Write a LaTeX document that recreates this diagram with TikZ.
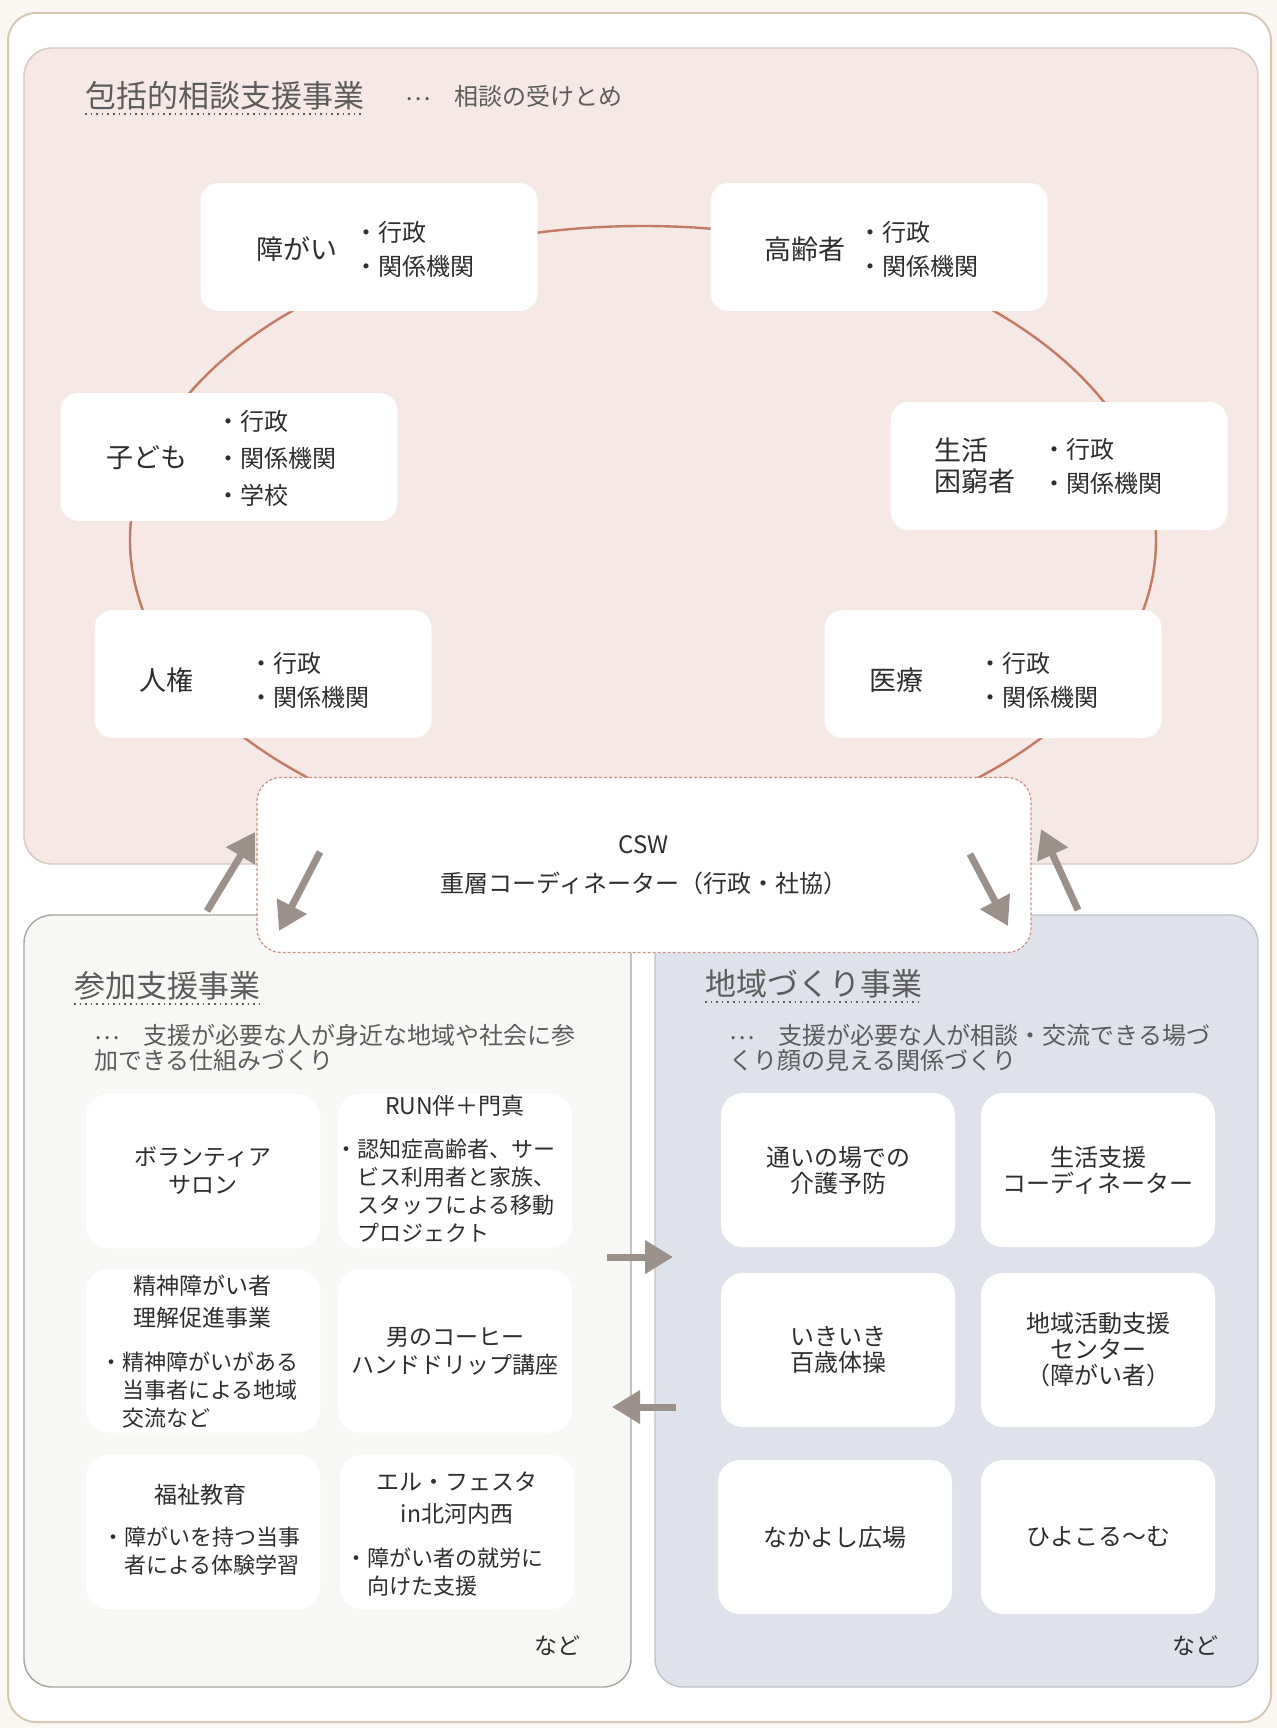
\documentclass[tikz,border=0pt]{standalone}
\usepackage{fontspec}
\setmainfont{Noto Sans CJK JP}
\usepackage{xcolor}
\usetikzlibrary{positioning, shapes.geometric, arrows.meta}
\definecolor{pagebg}{HTML}{FAF7F2}
\definecolor{framec}{HTML}{D6C8B4}
\definecolor{pinkbg}{HTML}{F5E8E5}
\definecolor{pinkln}{HTML}{D9C8C0}
\definecolor{greenbg}{HTML}{F7F8F5}
\definecolor{greenln}{HTML}{A9A39E}
\definecolor{bluebg}{HTML}{DFE2EA}
\definecolor{blueln}{HTML}{BFC2CA}
\definecolor{ringc}{HTML}{C27A62}
\definecolor{cswln}{HTML}{C99282}
\definecolor{arrowc}{HTML}{9C908A}
\definecolor{txt}{HTML}{2E2E2E}
\definecolor{subtxt}{HTML}{5C5C5C}

\begin{document}
\begin{tikzpicture}[x=0.5pt, y=-0.5pt,
    panel/.style={rounded corners=14pt, line width=0.7pt},
    oval/.style={ellipse, draw=ringc, line width=1.2pt, minimum width=513pt, minimum height=314pt, inner sep=0pt},
    tbox/.style={fill=white, rounded corners=9pt, minimum width=168.5pt, minimum height=64pt},
    bbox/.style={fill=white, rounded corners=11pt, minimum width=117pt, minimum height=77pt, align=center, text=txt, font=\fontsize{11.5}{14}\selectfont},
    rbox/.style={bbox, font=\fontsize{12}{13}\selectfont},
    cat/.style={inner sep=0pt, text=txt, align=left, font=\fontsize{13.5}{15.5}\selectfont},
    lst/.style={inner sep=0pt, text=txt, align=left, font=\fontsize{12}{17}\selectfont},
    hd/.style={inner sep=0pt, text=txt, align=center, font=\fontsize{11.5}{16}\selectfont},
    itm/.style={inner sep=0pt, text=txt, align=left, anchor=west, font=\fontsize{11}{14}\selectfont},
    ttl/.style={inner sep=0pt, anchor=west, text=subtxt, font=\fontsize{15.5}{18}\selectfont},
    dsc/.style={inner sep=0pt, anchor=west, text=subtxt, align=left, font=\fontsize{12}{12.5}\selectfont},
    uline/.style={draw=subtxt, dotted, line width=0.8pt},
    csw/.style={fill=white, draw=cswln, dash pattern=on 1.5pt off 1pt, line width=0.6pt, rounded corners=12pt, minimum width=387pt, minimum height=87.5pt, align=center, text=txt, font=\fontsize{12}{19.5}\selectfont},
    arr/.style={draw=arrowc, line width=3.5pt, -{Triangle[length=14pt, width=16pt]}}
  ]
  % page and panels
  \fill[pagebg] (0,0) rectangle (1277,1728);
  \useasboundingbox (0,0) rectangle (1277,1728);
  \draw[panel, draw=framec, fill=white, line width=1pt] (8,13) rectangle (1271,1722);
  \draw[panel, draw=pinkln, fill=pinkbg] (24,48) rectangle (1258,864);
  \draw[panel, draw=greenln, fill=greenbg] (24,915) rectangle (631,1687);
  \draw[panel, draw=blueln, fill=bluebg] (655,915) rectangle (1258,1687);

  % top panel
  \node[ttl] (t1) at (85,96) {包括的相談支援事業};
  \draw[uline] ([yshift=-1.5pt]t1.south west) -- ([yshift=-1.5pt]t1.south east);
  \node[dsc, right=20pt of t1] (s1) {\raisebox{2.5pt}{⋯}　相談の受けとめ};
  \node[oval] (ring) at (643,540) {};
  \node[tbox] (b1) at (369,247) {};
  \node[tbox] (b2) at (879,247) {};
  \node[tbox] (b3) at (229,457) {};
  \node[tbox] (b4) at (1059,466) {};
  \node[tbox] (b5) at (263,674) {};
  \node[tbox] (b6) at (993,674) {};
  \node[cat] (c1) at (297,249) {障がい};
  \node[lst, right=8pt of c1] (d1) {・行政\\・関係機関};
  \node[cat] (c2) at (805,249) {高齢者};
  \node[lst, right=6pt of c2] (d2) {・行政\\・関係機関};
  \node[cat] (c3) at (147,458) {子ども};
  \node[lst, right=14pt of c3, font=\fontsize{12}{18.5}\selectfont] (d3) {・行政\\・関係機関\\・学校};
  \node[cat] (c4) at (975,466) {生活\\困窮者};
  \node[lst, right=13pt of c4] (d4) {・行政\\・関係機関};
  \node[cat] (c5) at (166,680) {人権};
  \node[lst, right=28pt of c5] (d5) {・行政\\・関係機関};
  \node[cat] (c6) at (896,680) {医療};
  \node[lst, right=27.5pt of c6] (d6) {・行政\\・関係機関};
  \node[csw] (csw) at (644,865) {CSW\\重層コーディネーター（行政・社協）};

  % bottom left panel
  \node[ttl] (t2) at (74,986) {参加支援事業};
  \draw[uline] ([yshift=-1.5pt]t2.south west) -- ([yshift=-1.5pt]t2.south east);
  \node[dsc] (s2) at (94,1048) {\raisebox{2.5pt}{⋯}　支援が必要な人が身近な地域や社会に参\\加できる仕組みづくり};
  \node[bbox] (l1) at (203,1171) {ボランティア\\サロン};
  \node[bbox] (l2) at (455,1171) {};
  \node[hd] (h2) at (455,1106) {RUN伴＋門真};
  \node[itm] (i2) at (335,1191) {・認知症高齢者、サー\\\hspace*{1em}ビス利用者と家族、\\\hspace*{1em}スタッフによる移動\\\hspace*{1em}プロジェクト};
  \node[bbox, minimum height=81.5pt] (l3) at (203,1351) {};
  \node[hd] (h3) at (202,1302) {精神障がい者\\理解促進事業};
  \node[itm] (i3) at (100,1390) {・精神障がいがある\\\hspace*{1em}当事者による地域\\\hspace*{1em}交流など};
  \node[bbox, minimum height=81.5pt] (l4) at (455,1351) {男のコーヒー\\ハンドドリップ講座};
  \node[bbox] (l5) at (203,1532) {};
  \node[hd] (h5) at (200,1495) {福祉教育};
  \node[itm] (i5) at (102,1551) {・障がいを持つ当事\\\hspace*{1em}者による体験学習};
  \node[bbox] (l6) at (457,1532) {};
  \node[hd] (h6) at (457,1498) {エル・フェスタ\\in北河内西};
  \node[itm] (i6) at (345,1572) {・障がい者の就労に\\\hspace*{1em}向けた支援};
  \node[hd, anchor=east] (e1) at (581,1646) {など};

  % bottom right panel
  \node[ttl] (t3) at (705,984) {地域づくり事業};
  \draw[uline] ([yshift=-1.5pt]t3.south west) -- ([yshift=-1.5pt]t3.south east);
  \node[dsc] (s3) at (729,1048) {\raisebox{2.5pt}{⋯}　支援が必要な人が相談・交流できる場づ\\くり顔の見える関係づくり};
  \node[rbox] (r1) at (838,1170) {通いの場での\\介護予防};
  \node[rbox] (r2) at (1098,1170) {生活支援\\コーディネーター};
  \node[rbox] (r3) at (838,1350) {いきいき\\百歳体操};
  \node[rbox] (r4) at (1098,1350) {地域活動支援\\センター\\（障がい者）};
  \node[rbox] (r5) at (835,1537) {なかよし広場};
  \node[rbox] (r6) at (1098,1537) {ひよこる～む};
  \node[hd, anchor=east] (e2) at (1219,1646) {など};

  % arrows
  \coordinate (p1) at (207,911);  \coordinate (q1) at (255,832);
  \coordinate (p2) at (320,852);  \coordinate (q2) at (279,931);
  \coordinate (p3) at (970,854);  \coordinate (q3) at (1008,926);
  \coordinate (p4) at (1078,910); \coordinate (q4) at (1041,829);
  \coordinate (p5) at (607,1257); \coordinate (q5) at (673,1257);
  \coordinate (p6) at (676,1407); \coordinate (q6) at (612,1407);
  \draw[arr] (p1) -- (q1);
  \draw[arr] (p2) -- (q2);
  \draw[arr] (p3) -- (q3);
  \draw[arr] (p4) -- (q4);
  \draw[arr] (p5) -- (q5);
  \draw[arr] (p6) -- (q6);
\end{tikzpicture}
\end{document}
